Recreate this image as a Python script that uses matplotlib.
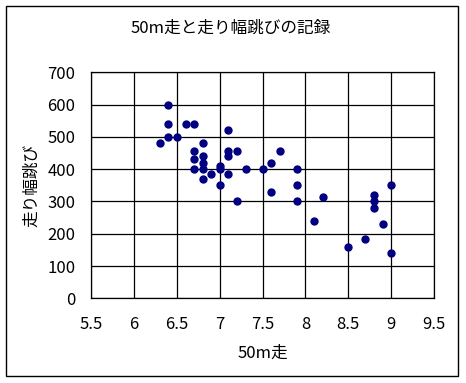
import matplotlib
matplotlib.use('Agg')
import matplotlib.pyplot as plt
from matplotlib.patches import Rectangle

plt.rcParams['font.family'] = ['Noto Sans CJK JP', 'DejaVu Sans']

# 50m走 (秒) と 走り幅跳び (cm)
run_50m = [6.3, 6.4, 6.4, 6.4, 6.5, 6.6, 6.7, 6.7, 6.7, 6.7,
           6.8, 6.8, 6.8, 6.8, 6.8, 6.9, 7.0, 7.0, 7.0, 7.1,
           7.1, 7.1, 7.1, 7.2, 7.2, 7.3, 7.5, 7.6, 7.6, 7.7,
           7.9, 7.9, 7.9, 8.1, 8.2, 8.5, 8.7, 8.8, 8.8, 8.8,
           8.9, 9.0, 9.0]
long_jump = [480, 600, 540, 500, 500, 540, 540, 455, 430, 400,
             480, 440, 420, 400, 370, 385, 410, 400, 350, 520,
             455, 440, 385, 455, 300, 400, 400, 420, 330, 455,
             400, 350, 300, 240, 315, 160, 185, 320, 300, 280,
             230, 350, 140]

x_ticks = [5.5, 6, 6.5, 7, 7.5, 8, 8.5, 9, 9.5]
x_labels = ['5.5', '6', '6.5', '7', '7.5', '8', '8.5', '9', '9.5']
y_ticks = [0, 100, 200, 300, 400, 500, 600, 700]

W, H = 466, 383
fig = plt.figure(figsize=(W / 100, H / 100), dpi=100)
ax = fig.add_axes([91.3 / W, 1 - 298.3 / H, (434 - 91.3) / W, (298.3 - 72.3) / H])

ax.plot(run_50m, long_jump, 'o', color='#000080', markersize=5, zorder=3)

ax.set_xlim(5.5, 9.5)
ax.set_ylim(0, 700)
ax.set_xticks(x_ticks)
ax.set_xticklabels(x_labels)
ax.set_yticks(y_ticks)
ax.grid(True, color='black', linewidth=0.9)
ax.tick_params(length=0, labelsize=12)
ax.tick_params(axis='x', pad=13)
ax.tick_params(axis='y', pad=11.5)
for s in ax.spines.values():
    s.set_linewidth(0.9)

ax.set_xlabel('50m走', fontsize=12, labelpad=8)
ax.set_ylabel('走り幅跳び', fontsize=12, labelpad=5)
fig.text(231 / W, 1 - 28 / H, '50m走と走り幅跳びの記録', fontsize=12,
         ha='center', va='center')

fig.patches.append(Rectangle((6 / W, 1 - 376 / H), 452 / W, 370 / H,
                             transform=fig.transFigure, fill=False,
                             edgecolor='black', linewidth=1))

fig.savefig('out.png', dpi=100)
